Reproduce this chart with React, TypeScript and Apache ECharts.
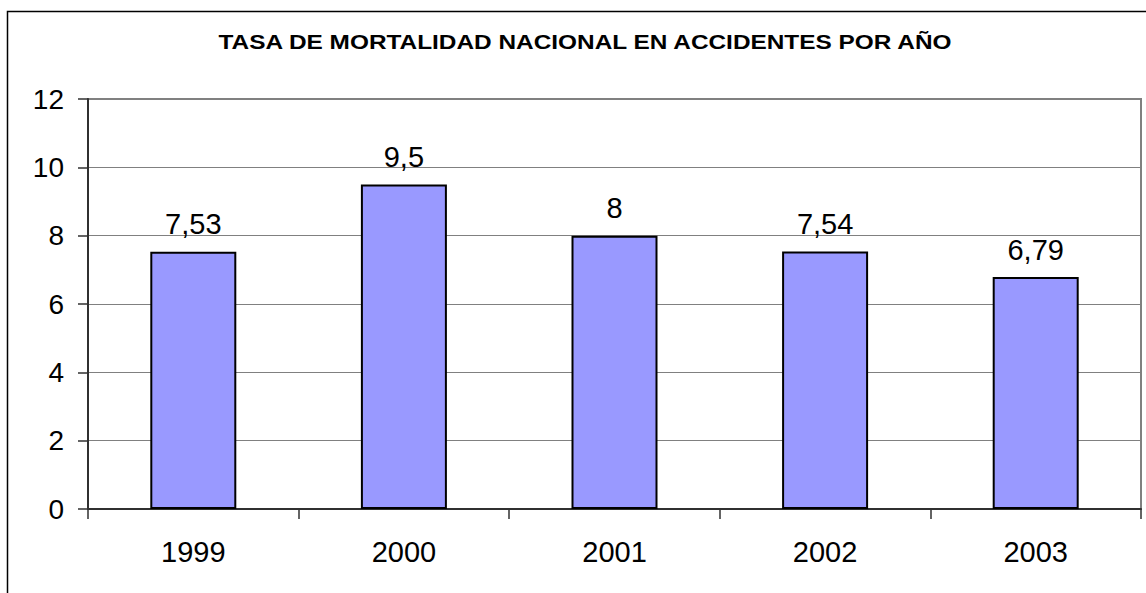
import React, { useEffect, useRef } from "react";
import * as echarts from "echarts";

const titleText = "TASA DE MORTALIDAD NACIONAL EN ACCIDENTES POR AÑO";
const years = ["1999", "2000", "2001", "2002", "2003"];
const rates = [7.53, 9.5, 8, 7.54, 6.79];
const yMin = 0;
const yMax = 12;
const yStep = 2;

const FONT = 'Arial, "Liberation Sans", sans-serif';

export default function App() {
  const ref = useRef<HTMLDivElement>(null);
  useEffect(() => {
    if (!ref.current) return;
    const chart = echarts.init(ref.current, null, { renderer: "svg" });
    chart.setOption({
      animation: false,
      backgroundColor: "#ffffff",
      graphic: [
        {
          type: "rect",
          shape: { x: 7.5, y: 11.5, width: 1300, height: 800 },
          style: { fill: "none", stroke: "#000000", lineWidth: 1.5 },
          silent: true,
          z: 0,
        },
        {
          type: "text",
          x: 585,
          y: 42,
          scaleX: 1.22,
          style: {
            text: titleText,
            fontFamily: FONT,
            fontSize: 20,
            fontWeight: "bold",
            fill: "#000000",
            align: "center",
            verticalAlign: "middle",
          },
          z: 10,
        },
      ],
      grid: {
        left: 88,
        top: 99,
        right: 5,
        bottom: 84,
        show: true,
        borderColor: "#808080",
        borderWidth: 2,
        backgroundColor: "transparent",
      },
      xAxis: {
        type: "category",
        data: years,
        boundaryGap: true,
        axisLine: { show: true, lineStyle: { color: "#303030", width: 2 } },
        axisTick: { show: true, length: 10, lineStyle: { color: "#303030", width: 1.5 } },
        axisLabel: {
          margin: 28,
          fontSize: 29,
          fontFamily: FONT,
          color: "#000000",
        },
        splitLine: { show: false },
      },
      yAxis: {
        type: "value",
        min: yMin,
        max: yMax,
        interval: yStep,
        axisLine: { show: true, lineStyle: { color: "#303030", width: 2 } },
        axisTick: { show: true, length: 10, lineStyle: { color: "#303030", width: 1.5 } },
        axisLabel: {
          margin: 24,
          fontSize: 28,
          fontFamily: FONT,
          color: "#000000",
        },
        splitLine: { show: true, lineStyle: { color: "#808080", width: 1 } },
      },
      series: [
        {
          type: "bar",
          data: rates,
          barWidth: 86,
          itemStyle: {
            color: "#9999FF",
            borderColor: "#000000",
            borderWidth: 2,
          },
          label: {
            show: true,
            position: "top",
            distance: 13,
            fontSize: 29,
            fontFamily: FONT,
            color: "#000000",
            formatter: (p: any) => String(p.value).replace(".", ","),
          },
        },
      ],
    });
    return () => chart.dispose();
  }, []);
  return (
    <div
      ref={ref}
      style={{ position: "absolute", left: 0, top: 0, width: 1146, height: 593 }}
    />
  );
}
